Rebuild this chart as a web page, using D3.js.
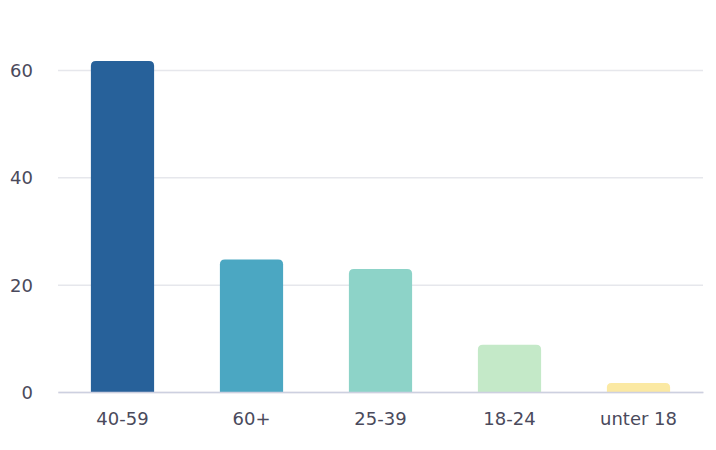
<!DOCTYPE html>
<html><head><meta charset="utf-8">
<script src="https://cdn.jsdelivr.net/npm/d3@7"></script>
<style>body{margin:0;background:#fff}svg{display:block}</style>
</head><body><svg id="c" width="716" height="450"></svg>
<script>
const categories = ["40-59","60+","25-39","18-24","unter 18"];
const values = [61.7, 24.7, 22.9, 8.8, 1.7];
const colors = ["#27619a","#4ba7c2","#8dd3c8","#c4e9c8","#fbe9a3"];
const yTicks = [0,20,40,60];

const FONT = "'DejaVu Sans', sans-serif";
const svg = d3.select("#c");
const m = {left:58, right:13, top:70, bottom:58};
const W = 716, H = 450;
const x = d3.scaleBand().domain(categories).range([m.left, W-m.right]).paddingInner(0.51).paddingOuter(0.255);
const y = d3.scaleLinear().domain([0,60]).range([392,70]);

const gy = svg.append("g").attr("transform",`translate(${m.left},0)`)
  .call(d3.axisLeft(y).tickValues(yTicks).tickSize(-(W-m.left-m.right)).tickPadding(25))
  .attr("font-family",FONT).attr("font-size",18);
gy.select(".domain").remove();
gy.selectAll(".tick line").attr("stroke","#e6e7ec").attr("stroke-width",1.5);
gy.selectAll(".tick text").attr("fill","#4a4a5c").attr("dy","0.36em");

const r = 5;
svg.selectAll("path.bar").data(categories).join("path").attr("class","bar")
  .attr("fill",(d,i)=>colors[i])
  .attr("d",(d,i)=>{
    const x0 = x(d), w = x.bandwidth(), y0 = y(values[i]), yb = y(0);
    const rr = Math.min(r, (yb-y0)/2);
    return `M${x0},${yb}V${y0+rr}Q${x0},${y0} ${x0+rr},${y0}H${x0+w-rr}Q${x0+w},${y0} ${x0+w},${y0+rr}V${yb}Z`;
  });

const gx = svg.append("g").attr("transform",`translate(0,${y(0)})`)
  .call(d3.axisBottom(x).tickSize(0).tickPadding(20))
  .attr("font-family",FONT).attr("font-size",18);
gx.select(".domain").attr("stroke","#cdd0e0").attr("stroke-width",1.5);
gx.selectAll(".tick text").attr("fill","#4a4a5c");
</script></body></html>
